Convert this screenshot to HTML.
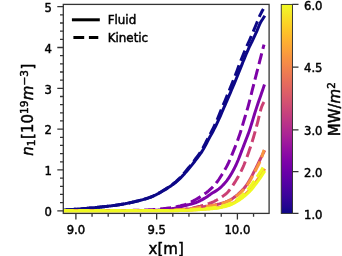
<!DOCTYPE html>
<html><head><meta charset="utf-8"><title>plot</title>
<style>
html,body{margin:0;padding:0;background:#fff;}
body{width:342px;height:256px;overflow:hidden;}
svg{display:block;}
text{font-family:"DejaVu Sans","Liberation Sans",sans-serif;fill:#000;stroke:#000;stroke-width:0.45px;}
svg{filter:blur(0.5px);}
</style></head><body>
<svg width="342" height="256" viewBox="0 0 342 256">
<defs>
<clipPath id="ax"><rect x="63.3" y="4.4" width="205.8" height="209.0"/></clipPath>
<linearGradient id="cb" x1="0" y1="1" x2="0" y2="0">
<stop offset="0.0000" stop-color="#0d0887"/>
<stop offset="0.0312" stop-color="#220690"/>
<stop offset="0.0625" stop-color="#310597"/>
<stop offset="0.0938" stop-color="#3f049c"/>
<stop offset="0.1250" stop-color="#4c02a1"/>
<stop offset="0.1562" stop-color="#5901a5"/>
<stop offset="0.1875" stop-color="#6600a7"/>
<stop offset="0.2188" stop-color="#7201a8"/>
<stop offset="0.2500" stop-color="#7e03a8"/>
<stop offset="0.2812" stop-color="#8a09a5"/>
<stop offset="0.3125" stop-color="#9511a1"/>
<stop offset="0.3438" stop-color="#a01a9c"/>
<stop offset="0.3750" stop-color="#aa2395"/>
<stop offset="0.4062" stop-color="#b32c8e"/>
<stop offset="0.4375" stop-color="#bc3587"/>
<stop offset="0.4688" stop-color="#c43e7f"/>
<stop offset="0.5000" stop-color="#cc4778"/>
<stop offset="0.5312" stop-color="#d35171"/>
<stop offset="0.5625" stop-color="#da5a6a"/>
<stop offset="0.5938" stop-color="#e06363"/>
<stop offset="0.6250" stop-color="#e66c5c"/>
<stop offset="0.6562" stop-color="#eb7655"/>
<stop offset="0.6875" stop-color="#f0804e"/>
<stop offset="0.7188" stop-color="#f58b47"/>
<stop offset="0.7500" stop-color="#f89540"/>
<stop offset="0.7812" stop-color="#fba139"/>
<stop offset="0.8125" stop-color="#fdac33"/>
<stop offset="0.8438" stop-color="#feb82c"/>
<stop offset="0.8750" stop-color="#fdc527"/>
<stop offset="0.9062" stop-color="#fcd225"/>
<stop offset="0.9375" stop-color="#f8df25"/>
<stop offset="0.9688" stop-color="#f4ed27"/>
<stop offset="1.0000" stop-color="#f0f921"/>
</linearGradient></defs>
<rect width="342" height="256" fill="#fff"/>
<g clip-path="url(#ax)" fill="none" stroke-width="3.0">
<path d="M55.00 210.20 L55.81 210.19 L56.61 210.18 L57.42 210.16 L58.23 210.14 L59.03 210.12 L59.84 210.10 L60.65 210.08 L61.46 210.05 L62.26 210.02 L63.07 210.00 L63.88 209.97 L64.68 209.93 L65.49 209.90 L66.30 209.86 L67.10 209.81 L67.91 209.77 L68.72 209.72 L69.53 209.67 L70.33 209.62 L71.14 209.56 L71.95 209.51 L72.75 209.45 L73.56 209.39 L74.37 209.33 L75.17 209.27 L75.98 209.21 L76.79 209.14 L77.59 209.08 L78.40 209.02 L79.21 208.96 L80.02 208.90 L80.82 208.84 L81.63 208.78 L82.44 208.71 L83.24 208.65 L84.05 208.58 L84.86 208.52 L85.66 208.45 L86.47 208.38 L87.28 208.31 L88.08 208.24 L88.89 208.17 L89.70 208.10 L90.51 208.03 L91.31 207.95 L92.12 207.88 L92.93 207.80 L93.73 207.73 L94.54 207.65 L95.35 207.57 L96.15 207.49 L96.96 207.41 L97.77 207.33 L98.58 207.25 L99.38 207.16 L100.19 207.08 L101.00 207.00 L101.80 206.91 L102.61 206.82 L103.42 206.74 L104.22 206.65 L105.03 206.56 L105.84 206.47 L106.64 206.38 L107.45 206.28 L108.26 206.19 L109.07 206.09 L109.87 206.00 L110.68 205.90 L111.49 205.80 L112.29 205.69 L113.10 205.59 L113.91 205.48 L114.71 205.37 L115.52 205.26 L116.33 205.15 L117.14 205.03 L117.94 204.91 L118.75 204.79 L119.56 204.67 L120.36 204.54 L121.17 204.41 L121.98 204.28 L122.78 204.14 L123.59 204.00 L124.40 203.85 L125.20 203.71 L126.01 203.55 L126.82 203.40 L127.63 203.24 L128.43 203.07 L129.24 202.91 L130.05 202.74 L130.85 202.57 L131.66 202.39 L132.47 202.21 L133.27 202.03 L134.08 201.84 L134.89 201.66 L135.69 201.47 L136.50 201.27 L137.31 201.08 L138.12 200.88 L138.92 200.67 L139.73 200.47 L140.54 200.26 L141.34 200.05 L142.15 199.83 L142.96 199.61 L143.76 199.38 L144.57 199.14 L145.38 198.90 L146.19 198.65 L146.99 198.40 L147.80 198.13 L148.61 197.86 L149.41 197.58 L150.22 197.28 L151.03 196.98 L151.83 196.67 L152.64 196.34 L153.45 195.99 L154.25 195.63 L155.06 195.24 L155.87 194.85 L156.68 194.44 L157.48 194.01 L158.29 193.58 L159.10 193.13 L159.90 192.68 L160.71 192.22 L161.52 191.75 L162.32 191.28 L163.13 190.81 L163.94 190.33 L164.75 189.85 L165.55 189.36 L166.36 188.87 L167.17 188.36 L167.97 187.84 L168.78 187.32 L169.59 186.78 L170.39 186.23 L171.20 185.67 L172.01 185.10 L172.81 184.52 L173.62 183.93 L174.43 183.32 L175.24 182.70 L176.04 182.06 L176.85 181.38 L177.66 180.67 L178.46 179.94 L179.27 179.17 L180.08 178.39 L180.88 177.58 L181.69 176.75 L182.50 175.90 L183.31 175.03 L184.11 174.15 L184.92 173.25 L185.73 172.34 L186.53 171.42 L187.34 170.49 L188.15 169.55 L188.95 168.59 L189.76 167.62 L190.57 166.63 L191.37 165.63 L192.18 164.61 L192.99 163.57 L193.80 162.53 L194.60 161.48 L195.41 160.42 L196.22 159.36 L197.02 158.31 L197.83 157.25 L198.64 156.19 L199.44 155.10 L200.25 153.98 L201.06 152.82 L201.86 151.61 L202.67 150.33 L203.48 148.97 L204.29 147.53 L205.09 146.04 L205.90 144.50 L206.71 142.94 L207.51 141.38 L208.32 139.82 L209.13 138.30 L209.93 136.82 L210.74 135.35 L211.55 133.90 L212.36 132.43 L213.16 130.94 L213.97 129.41 L214.78 127.84 L215.58 126.22 L216.39 124.58 L217.20 122.89 L218.00 121.18 L218.81 119.43 L219.62 117.64 L220.42 115.79 L221.23 113.90 L222.04 112.00 L222.85 110.11 L223.65 108.23 L224.46 106.38 L225.27 104.54 L226.07 102.69 L226.88 100.84 L227.69 98.97 L228.49 97.09 L229.30 95.21 L230.11 93.32 L230.92 91.42 L231.72 89.52 L232.53 87.62 L233.34 85.72 L234.14 83.81 L234.95 81.90 L235.76 79.97 L236.56 78.02 L237.37 76.03 L238.18 74.01 L238.98 71.98 L239.79 69.94 L240.60 67.91 L241.41 65.87 L242.21 63.83 L243.02 61.80 L243.83 59.81 L244.63 57.86 L245.44 55.92 L246.25 54.01 L247.05 52.12 L247.86 50.28 L248.67 48.47 L249.47 46.73 L250.28 45.04 L251.09 43.39 L251.90 41.74 L252.70 40.09 L253.51 38.39 L254.32 36.66 L255.12 34.90 L255.93 33.12 L256.74 31.32 L257.54 29.43 L258.35 27.45 L259.16 25.50 L259.97 23.66 L260.77 22.05 L261.58 20.73 L262.39 19.52 L263.19 18.26 L264.00 17.00" stroke="#0d0887" stroke-linecap="square"/>
<path d="M55.00 210.20 L55.80 210.19 L56.61 210.18 L57.41 210.16 L58.22 210.14 L59.02 210.12 L59.83 210.10 L60.63 210.08 L61.44 210.05 L62.24 210.03 L63.05 210.00 L63.85 209.97 L64.66 209.94 L65.46 209.90 L66.26 209.86 L67.07 209.82 L67.87 209.77 L68.68 209.72 L69.48 209.67 L70.29 209.62 L71.09 209.56 L71.90 209.51 L72.70 209.45 L73.51 209.39 L74.31 209.33 L75.12 209.27 L75.92 209.21 L76.73 209.15 L77.53 209.09 L78.33 209.03 L79.14 208.96 L79.94 208.90 L80.75 208.84 L81.55 208.78 L82.36 208.72 L83.16 208.66 L83.97 208.59 L84.77 208.52 L85.58 208.46 L86.38 208.39 L87.19 208.32 L87.99 208.25 L88.79 208.18 L89.60 208.11 L90.40 208.04 L91.21 207.96 L92.01 207.89 L92.82 207.81 L93.62 207.74 L94.43 207.66 L95.23 207.58 L96.04 207.50 L96.84 207.42 L97.65 207.34 L98.45 207.26 L99.25 207.18 L100.06 207.09 L100.86 207.01 L101.67 206.92 L102.47 206.84 L103.28 206.75 L104.08 206.66 L104.89 206.57 L105.69 206.48 L106.50 206.39 L107.30 206.30 L108.11 206.21 L108.91 206.11 L109.72 206.01 L110.52 205.92 L111.32 205.82 L112.13 205.71 L112.93 205.61 L113.74 205.50 L114.54 205.40 L115.35 205.29 L116.15 205.17 L116.96 205.06 L117.76 204.94 L118.57 204.82 L119.37 204.70 L120.18 204.57 L120.98 204.44 L121.78 204.31 L122.59 204.17 L123.39 204.03 L124.20 203.89 L125.00 203.74 L125.81 203.59 L126.61 203.44 L127.42 203.28 L128.22 203.12 L129.03 202.96 L129.83 202.79 L130.64 202.62 L131.44 202.44 L132.24 202.26 L133.05 202.08 L133.85 201.90 L134.66 201.71 L135.46 201.52 L136.27 201.33 L137.07 201.14 L137.88 200.94 L138.68 200.74 L139.49 200.53 L140.29 200.32 L141.10 200.11 L141.90 199.90 L142.71 199.67 L143.51 199.45 L144.31 199.21 L145.12 198.97 L145.92 198.72 L146.73 198.46 L147.53 198.20 L148.34 197.93 L149.14 197.64 L149.95 197.35 L150.75 197.05 L151.56 196.74 L152.36 196.41 L153.17 196.06 L153.97 195.69 L154.77 195.31 L155.58 194.91 L156.38 194.49 L157.19 194.06 L157.99 193.62 L158.80 193.17 L159.60 192.71 L160.41 192.24 L161.21 191.77 L162.02 191.29 L162.82 190.81 L163.63 190.33 L164.43 189.84 L165.23 189.34 L166.04 188.83 L166.84 188.32 L167.65 187.79 L168.45 187.25 L169.26 186.70 L170.06 186.14 L170.87 185.57 L171.67 184.99 L172.48 184.39 L173.28 183.78 L174.09 183.15 L174.89 182.51 L175.69 181.85 L176.50 181.14 L177.30 180.40 L178.11 179.63 L178.91 178.84 L179.72 178.02 L180.52 177.17 L181.33 176.30 L182.13 175.40 L182.94 174.49 L183.74 173.57 L184.55 172.63 L185.35 171.68 L186.16 170.72 L186.96 169.77 L187.76 168.80 L188.57 167.82 L189.37 166.83 L190.18 165.82 L190.98 164.80 L191.79 163.77 L192.59 162.73 L193.40 161.68 L194.20 160.62 L195.01 159.55 L195.81 158.49 L196.62 157.44 L197.42 156.37 L198.22 155.28 L199.03 154.16 L199.83 153.00 L200.64 151.79 L201.44 150.51 L202.25 149.15 L203.05 147.72 L203.86 146.22 L204.66 144.68 L205.47 143.12 L206.27 141.54 L207.08 139.96 L207.88 138.41 L208.68 136.89 L209.49 135.39 L210.29 133.88 L211.10 132.36 L211.90 130.81 L212.71 129.22 L213.51 127.58 L214.32 125.89 L215.12 124.17 L215.93 122.41 L216.73 120.61 L217.54 118.77 L218.34 116.86 L219.15 114.90 L219.95 112.91 L220.75 110.92 L221.56 108.96 L222.36 107.02 L223.17 105.10 L223.97 103.19 L224.78 101.27 L225.58 99.34 L226.39 97.40 L227.19 95.44 L228.00 93.48 L228.80 91.51 L229.61 89.54 L230.41 87.57 L231.21 85.60 L232.02 83.63 L232.82 81.64 L233.63 79.63 L234.43 77.58 L235.24 75.48 L236.04 73.35 L236.85 71.19 L237.65 69.03 L238.46 66.88 L239.26 64.72 L240.07 62.56 L240.87 60.46 L241.67 58.44 L242.48 56.46 L243.28 54.53 L244.09 52.63 L244.89 50.74 L245.70 48.87 L246.50 47.01 L247.31 45.18 L248.11 43.37 L248.92 41.57 L249.72 39.75 L250.53 37.91 L251.33 36.04 L252.14 34.15 L252.94 32.25 L253.74 30.34 L254.55 28.41 L255.35 26.47 L256.16 24.53 L256.96 22.57 L257.77 20.59 L258.57 18.57 L259.38 16.67 L260.18 14.94 L260.99 13.29 L261.79 11.72 L262.60 10.25 L263.40 8.90" stroke="#0d0887" stroke-dasharray="11.1 4.8" stroke-dashoffset="5.34"/>
<path d="M55.00 210.50 L55.81 210.50 L56.61 210.50 L57.42 210.50 L58.23 210.50 L59.03 210.50 L59.84 210.50 L60.65 210.50 L61.46 210.50 L62.26 210.50 L63.07 210.50 L63.88 210.50 L64.68 210.50 L65.49 210.50 L66.30 210.50 L67.10 210.50 L67.91 210.50 L68.72 210.50 L69.53 210.50 L70.33 210.50 L71.14 210.50 L71.95 210.50 L72.75 210.50 L73.56 210.50 L74.37 210.50 L75.17 210.50 L75.98 210.50 L76.79 210.50 L77.59 210.50 L78.40 210.50 L79.21 210.50 L80.02 210.50 L80.82 210.50 L81.63 210.49 L82.44 210.49 L83.24 210.49 L84.05 210.49 L84.86 210.49 L85.66 210.49 L86.47 210.49 L87.28 210.49 L88.08 210.49 L88.89 210.49 L89.70 210.49 L90.51 210.49 L91.31 210.49 L92.12 210.49 L92.93 210.49 L93.73 210.49 L94.54 210.49 L95.35 210.49 L96.15 210.49 L96.96 210.49 L97.77 210.49 L98.58 210.48 L99.38 210.48 L100.19 210.48 L101.00 210.48 L101.80 210.48 L102.61 210.48 L103.42 210.48 L104.22 210.48 L105.03 210.48 L105.84 210.48 L106.64 210.48 L107.45 210.48 L108.26 210.48 L109.07 210.47 L109.87 210.47 L110.68 210.47 L111.49 210.47 L112.29 210.47 L113.10 210.47 L113.91 210.47 L114.71 210.47 L115.52 210.47 L116.33 210.47 L117.14 210.46 L117.94 210.46 L118.75 210.46 L119.56 210.46 L120.36 210.46 L121.17 210.46 L121.98 210.46 L122.78 210.46 L123.59 210.46 L124.40 210.45 L125.20 210.45 L126.01 210.45 L126.82 210.45 L127.63 210.45 L128.43 210.45 L129.24 210.45 L130.05 210.44 L130.85 210.44 L131.66 210.44 L132.47 210.44 L133.27 210.44 L134.08 210.44 L134.89 210.43 L135.69 210.43 L136.50 210.43 L137.31 210.43 L138.12 210.43 L138.92 210.43 L139.73 210.42 L140.54 210.42 L141.34 210.42 L142.15 210.42 L142.96 210.42 L143.76 210.42 L144.57 210.41 L145.38 210.41 L146.19 210.41 L146.99 210.41 L147.80 210.41 L148.61 210.40 L149.41 210.40 L150.22 210.40 L151.03 210.39 L151.83 210.38 L152.64 210.36 L153.45 210.34 L154.25 210.31 L155.06 210.27 L155.87 210.23 L156.68 210.19 L157.48 210.14 L158.29 210.09 L159.10 210.03 L159.90 209.98 L160.71 209.91 L161.52 209.85 L162.32 209.78 L163.13 209.70 L163.94 209.63 L164.75 209.55 L165.55 209.47 L166.36 209.39 L167.17 209.30 L167.97 209.22 L168.78 209.13 L169.59 209.05 L170.39 208.95 L171.20 208.85 L172.01 208.73 L172.81 208.59 L173.62 208.44 L174.43 208.28 L175.24 208.10 L176.04 207.92 L176.85 207.73 L177.66 207.53 L178.46 207.32 L179.27 207.11 L180.08 206.90 L180.88 206.68 L181.69 206.47 L182.50 206.25 L183.31 206.04 L184.11 205.83 L184.92 205.62 L185.73 205.42 L186.53 205.22 L187.34 205.02 L188.15 204.82 L188.95 204.62 L189.76 204.41 L190.57 204.20 L191.37 203.98 L192.18 203.76 L192.99 203.53 L193.80 203.28 L194.60 203.03 L195.41 202.76 L196.22 202.48 L197.02 202.18 L197.83 201.85 L198.64 201.49 L199.44 201.10 L200.25 200.69 L201.06 200.26 L201.86 199.82 L202.67 199.36 L203.48 198.89 L204.29 198.42 L205.09 197.95 L205.90 197.45 L206.71 196.93 L207.51 196.39 L208.32 195.83 L209.13 195.27 L209.93 194.70 L210.74 194.14 L211.55 193.60 L212.36 193.07 L213.16 192.57 L213.97 192.09 L214.78 191.61 L215.58 191.12 L216.39 190.62 L217.20 190.09 L218.00 189.52 L218.81 188.90 L219.62 188.24 L220.42 187.53 L221.23 186.79 L222.04 186.01 L222.85 185.19 L223.65 184.35 L224.46 183.48 L225.27 182.59 L226.07 181.62 L226.88 180.58 L227.69 179.48 L228.49 178.32 L229.30 177.11 L230.11 175.85 L230.92 174.54 L231.72 173.18 L232.53 171.76 L233.34 170.30 L234.14 168.78 L234.95 167.18 L235.76 165.50 L236.56 163.75 L237.37 161.93 L238.18 160.05 L238.98 158.04 L239.79 155.89 L240.60 153.73 L241.41 151.63 L242.21 149.54 L243.02 147.45 L243.83 145.37 L244.63 143.27 L245.44 141.16 L246.25 139.06 L247.05 136.98 L247.86 134.88 L248.67 132.72 L249.47 130.46 L250.28 128.02 L251.09 125.41 L251.90 122.73 L252.70 120.08 L253.51 117.41 L254.32 114.74 L255.12 112.14 L255.93 109.62 L256.74 107.14 L257.54 104.71 L258.35 102.32 L259.16 99.99 L259.97 97.73 L260.77 95.43 L261.58 93.11 L262.39 90.76 L263.19 88.39 L264.00 86.00" stroke="#7e03a8" stroke-linecap="square"/>
<path d="M55.00 210.50 L55.81 210.50 L56.61 210.50 L57.42 210.50 L58.23 210.50 L59.03 210.50 L59.84 210.50 L60.65 210.50 L61.46 210.50 L62.26 210.50 L63.07 210.50 L63.88 210.50 L64.68 210.50 L65.49 210.50 L66.30 210.50 L67.10 210.50 L67.91 210.50 L68.72 210.50 L69.53 210.50 L70.33 210.50 L71.14 210.50 L71.95 210.50 L72.75 210.50 L73.56 210.50 L74.37 210.49 L75.17 210.49 L75.98 210.49 L76.79 210.49 L77.59 210.49 L78.40 210.49 L79.21 210.49 L80.02 210.49 L80.82 210.49 L81.63 210.49 L82.44 210.49 L83.24 210.49 L84.05 210.49 L84.86 210.49 L85.66 210.49 L86.47 210.49 L87.28 210.48 L88.08 210.48 L88.89 210.48 L89.70 210.48 L90.51 210.48 L91.31 210.48 L92.12 210.48 L92.93 210.48 L93.73 210.48 L94.54 210.48 L95.35 210.48 L96.15 210.47 L96.96 210.47 L97.77 210.47 L98.58 210.47 L99.38 210.47 L100.19 210.47 L101.00 210.47 L101.80 210.47 L102.61 210.46 L103.42 210.46 L104.22 210.46 L105.03 210.46 L105.84 210.46 L106.64 210.46 L107.45 210.46 L108.26 210.45 L109.07 210.45 L109.87 210.45 L110.68 210.45 L111.49 210.45 L112.29 210.45 L113.10 210.44 L113.91 210.44 L114.71 210.44 L115.52 210.44 L116.33 210.44 L117.14 210.44 L117.94 210.43 L118.75 210.43 L119.56 210.43 L120.36 210.43 L121.17 210.43 L121.98 210.42 L122.78 210.42 L123.59 210.42 L124.40 210.42 L125.20 210.41 L126.01 210.41 L126.82 210.41 L127.63 210.41 L128.43 210.40 L129.24 210.40 L130.05 210.40 L130.85 210.40 L131.66 210.39 L132.47 210.38 L133.27 210.37 L134.08 210.36 L134.89 210.34 L135.69 210.33 L136.50 210.31 L137.31 210.29 L138.12 210.27 L138.92 210.24 L139.73 210.22 L140.54 210.19 L141.34 210.16 L142.15 210.13 L142.96 210.10 L143.76 210.07 L144.57 210.04 L145.38 210.01 L146.19 209.97 L146.99 209.94 L147.80 209.90 L148.61 209.86 L149.41 209.83 L150.22 209.79 L151.03 209.75 L151.83 209.70 L152.64 209.64 L153.45 209.58 L154.25 209.52 L155.06 209.45 L155.87 209.38 L156.68 209.30 L157.48 209.23 L158.29 209.15 L159.10 209.07 L159.90 208.98 L160.71 208.90 L161.52 208.82 L162.32 208.74 L163.13 208.65 L163.94 208.57 L164.75 208.48 L165.55 208.39 L166.36 208.29 L167.17 208.20 L167.97 208.10 L168.78 207.99 L169.59 207.89 L170.39 207.78 L171.20 207.66 L172.01 207.54 L172.81 207.41 L173.62 207.28 L174.43 207.14 L175.24 206.99 L176.04 206.84 L176.85 206.68 L177.66 206.51 L178.46 206.33 L179.27 206.14 L180.08 205.95 L180.88 205.74 L181.69 205.53 L182.50 205.31 L183.31 205.08 L184.11 204.84 L184.92 204.59 L185.73 204.33 L186.53 204.04 L187.34 203.73 L188.15 203.39 L188.95 203.04 L189.76 202.66 L190.57 202.27 L191.37 201.87 L192.18 201.45 L192.99 201.03 L193.80 200.59 L194.60 200.15 L195.41 199.71 L196.22 199.26 L197.02 198.80 L197.83 198.33 L198.64 197.85 L199.44 197.37 L200.25 196.87 L201.06 196.35 L201.86 195.83 L202.67 195.29 L203.48 194.74 L204.29 194.17 L205.09 193.58 L205.90 192.98 L206.71 192.37 L207.51 191.73 L208.32 191.08 L209.13 190.40 L209.93 189.71 L210.74 188.98 L211.55 188.21 L212.36 187.40 L213.16 186.55 L213.97 185.66 L214.78 184.75 L215.58 183.79 L216.39 182.80 L217.20 181.78 L218.00 180.72 L218.81 179.53 L219.62 178.26 L220.42 176.99 L221.23 175.72 L222.04 174.44 L222.85 173.14 L223.65 171.81 L224.46 170.45 L225.27 169.05 L226.07 167.60 L226.88 166.10 L227.69 164.53 L228.49 162.86 L229.30 161.10 L230.11 159.26 L230.92 157.35 L231.72 155.40 L232.53 153.41 L233.34 151.41 L234.14 149.40 L234.95 147.37 L235.76 145.32 L236.56 143.23 L237.37 141.08 L238.18 138.87 L238.98 136.59 L239.79 134.23 L240.60 131.72 L241.41 129.09 L242.21 126.37 L243.02 123.63 L243.83 120.91 L244.63 118.23 L245.44 115.56 L246.25 112.86 L247.05 110.12 L247.86 107.31 L248.67 104.38 L249.47 101.29 L250.28 98.08 L251.09 94.83 L251.90 91.62 L252.70 88.46 L253.51 85.30 L254.32 82.14 L255.12 78.99 L255.93 75.85 L256.74 72.71 L257.54 69.57 L258.35 66.44 L259.16 63.31 L259.97 60.18 L260.77 57.06 L261.58 53.94 L262.39 50.82 L263.19 47.71 L264.00 44.60" stroke="#7e03a8" stroke-dasharray="11.1 4.8" stroke-dashoffset="6.16"/>
<path d="M55.00 210.60 L55.81 210.60 L56.61 210.60 L57.42 210.60 L58.23 210.60 L59.03 210.60 L59.84 210.60 L60.65 210.60 L61.46 210.60 L62.26 210.60 L63.07 210.60 L63.88 210.60 L64.68 210.60 L65.49 210.60 L66.30 210.60 L67.10 210.60 L67.91 210.60 L68.72 210.60 L69.53 210.60 L70.33 210.60 L71.14 210.60 L71.95 210.60 L72.75 210.60 L73.56 210.60 L74.37 210.60 L75.17 210.60 L75.98 210.60 L76.79 210.60 L77.59 210.60 L78.40 210.60 L79.21 210.60 L80.02 210.60 L80.82 210.60 L81.63 210.60 L82.44 210.60 L83.24 210.60 L84.05 210.60 L84.86 210.60 L85.66 210.60 L86.47 210.59 L87.28 210.59 L88.08 210.59 L88.89 210.59 L89.70 210.59 L90.51 210.59 L91.31 210.59 L92.12 210.59 L92.93 210.59 L93.73 210.59 L94.54 210.59 L95.35 210.59 L96.15 210.59 L96.96 210.59 L97.77 210.59 L98.58 210.59 L99.38 210.59 L100.19 210.59 L101.00 210.59 L101.80 210.59 L102.61 210.59 L103.42 210.59 L104.22 210.59 L105.03 210.59 L105.84 210.58 L106.64 210.58 L107.45 210.58 L108.26 210.58 L109.07 210.58 L109.87 210.58 L110.68 210.58 L111.49 210.58 L112.29 210.58 L113.10 210.58 L113.91 210.58 L114.71 210.58 L115.52 210.58 L116.33 210.58 L117.14 210.58 L117.94 210.57 L118.75 210.57 L119.56 210.57 L120.36 210.57 L121.17 210.57 L121.98 210.57 L122.78 210.57 L123.59 210.57 L124.40 210.57 L125.20 210.57 L126.01 210.57 L126.82 210.57 L127.63 210.56 L128.43 210.56 L129.24 210.56 L130.05 210.56 L130.85 210.56 L131.66 210.56 L132.47 210.56 L133.27 210.56 L134.08 210.56 L134.89 210.55 L135.69 210.55 L136.50 210.55 L137.31 210.55 L138.12 210.55 L138.92 210.55 L139.73 210.55 L140.54 210.55 L141.34 210.55 L142.15 210.54 L142.96 210.54 L143.76 210.54 L144.57 210.54 L145.38 210.54 L146.19 210.54 L146.99 210.54 L147.80 210.53 L148.61 210.53 L149.41 210.53 L150.22 210.53 L151.03 210.53 L151.83 210.53 L152.64 210.53 L153.45 210.52 L154.25 210.52 L155.06 210.52 L155.87 210.52 L156.68 210.52 L157.48 210.52 L158.29 210.51 L159.10 210.51 L159.90 210.51 L160.71 210.51 L161.52 210.51 L162.32 210.51 L163.13 210.50 L163.94 210.50 L164.75 210.50 L165.55 210.50 L166.36 210.49 L167.17 210.48 L167.97 210.46 L168.78 210.44 L169.59 210.42 L170.39 210.40 L171.20 210.37 L172.01 210.33 L172.81 210.30 L173.62 210.26 L174.43 210.22 L175.24 210.17 L176.04 210.12 L176.85 210.08 L177.66 210.02 L178.46 209.97 L179.27 209.92 L180.08 209.86 L180.88 209.81 L181.69 209.75 L182.50 209.69 L183.31 209.63 L184.11 209.57 L184.92 209.51 L185.73 209.44 L186.53 209.36 L187.34 209.28 L188.15 209.18 L188.95 209.08 L189.76 208.97 L190.57 208.86 L191.37 208.74 L192.18 208.62 L192.99 208.50 L193.80 208.38 L194.60 208.26 L195.41 208.14 L196.22 208.01 L197.02 207.88 L197.83 207.75 L198.64 207.61 L199.44 207.47 L200.25 207.33 L201.06 207.19 L201.86 207.04 L202.67 206.90 L203.48 206.76 L204.29 206.62 L205.09 206.48 L205.90 206.35 L206.71 206.23 L207.51 206.11 L208.32 205.99 L209.13 205.88 L209.93 205.76 L210.74 205.64 L211.55 205.52 L212.36 205.40 L213.16 205.27 L213.97 205.13 L214.78 204.99 L215.58 204.83 L216.39 204.67 L217.20 204.49 L218.00 204.30 L218.81 204.10 L219.62 203.88 L220.42 203.66 L221.23 203.42 L222.04 203.17 L222.85 202.91 L223.65 202.63 L224.46 202.34 L225.27 202.04 L226.07 201.72 L226.88 201.40 L227.69 201.06 L228.49 200.70 L229.30 200.32 L230.11 199.90 L230.92 199.45 L231.72 198.96 L232.53 198.44 L233.34 197.89 L234.14 197.32 L234.95 196.73 L235.76 196.13 L236.56 195.51 L237.37 194.86 L238.18 194.17 L238.98 193.43 L239.79 192.66 L240.60 191.86 L241.41 191.04 L242.21 190.20 L243.02 189.34 L243.83 188.45 L244.63 187.51 L245.44 186.51 L246.25 185.42 L247.05 184.24 L247.86 182.99 L248.67 181.68 L249.47 180.33 L250.28 178.89 L251.09 177.38 L251.90 175.85 L252.70 174.33 L253.51 172.82 L254.32 171.30 L255.12 169.74 L255.93 168.14 L256.74 166.48 L257.54 164.80 L258.35 163.10 L259.16 161.42 L259.97 159.76 L260.77 158.11 L261.58 156.47 L262.39 154.84 L263.19 153.22 L264.00 151.60" stroke="#cb4074" stroke-linecap="square"/>
<path d="M55.00 210.60 L55.81 210.60 L56.61 210.60 L57.42 210.60 L58.23 210.60 L59.03 210.60 L59.84 210.60 L60.65 210.60 L61.46 210.60 L62.26 210.60 L63.07 210.60 L63.88 210.60 L64.68 210.60 L65.49 210.60 L66.30 210.60 L67.10 210.60 L67.91 210.60 L68.72 210.60 L69.53 210.60 L70.33 210.60 L71.14 210.60 L71.95 210.60 L72.75 210.60 L73.56 210.60 L74.37 210.60 L75.17 210.60 L75.98 210.60 L76.79 210.60 L77.59 210.60 L78.40 210.60 L79.21 210.59 L80.02 210.59 L80.82 210.59 L81.63 210.59 L82.44 210.59 L83.24 210.59 L84.05 210.59 L84.86 210.59 L85.66 210.59 L86.47 210.59 L87.28 210.59 L88.08 210.59 L88.89 210.59 L89.70 210.59 L90.51 210.59 L91.31 210.59 L92.12 210.59 L92.93 210.59 L93.73 210.59 L94.54 210.58 L95.35 210.58 L96.15 210.58 L96.96 210.58 L97.77 210.58 L98.58 210.58 L99.38 210.58 L100.19 210.58 L101.00 210.58 L101.80 210.58 L102.61 210.58 L103.42 210.58 L104.22 210.57 L105.03 210.57 L105.84 210.57 L106.64 210.57 L107.45 210.57 L108.26 210.57 L109.07 210.57 L109.87 210.57 L110.68 210.57 L111.49 210.57 L112.29 210.56 L113.10 210.56 L113.91 210.56 L114.71 210.56 L115.52 210.56 L116.33 210.56 L117.14 210.56 L117.94 210.55 L118.75 210.55 L119.56 210.55 L120.36 210.55 L121.17 210.55 L121.98 210.55 L122.78 210.55 L123.59 210.54 L124.40 210.54 L125.20 210.54 L126.01 210.54 L126.82 210.54 L127.63 210.54 L128.43 210.53 L129.24 210.53 L130.05 210.53 L130.85 210.53 L131.66 210.53 L132.47 210.53 L133.27 210.52 L134.08 210.52 L134.89 210.52 L135.69 210.52 L136.50 210.52 L137.31 210.51 L138.12 210.51 L138.92 210.51 L139.73 210.51 L140.54 210.50 L141.34 210.50 L142.15 210.50 L142.96 210.50 L143.76 210.50 L144.57 210.49 L145.38 210.49 L146.19 210.49 L146.99 210.49 L147.80 210.48 L148.61 210.48 L149.41 210.48 L150.22 210.48 L151.03 210.47 L151.83 210.47 L152.64 210.47 L153.45 210.46 L154.25 210.46 L155.06 210.46 L155.87 210.46 L156.68 210.45 L157.48 210.45 L158.29 210.45 L159.10 210.44 L159.90 210.44 L160.71 210.44 L161.52 210.44 L162.32 210.43 L163.13 210.43 L163.94 210.43 L164.75 210.42 L165.55 210.42 L166.36 210.42 L167.17 210.41 L167.97 210.41 L168.78 210.41 L169.59 210.40 L170.39 210.40 L171.20 210.38 L172.01 210.36 L172.81 210.33 L173.62 210.29 L174.43 210.25 L175.24 210.19 L176.04 210.13 L176.85 210.07 L177.66 209.99 L178.46 209.91 L179.27 209.83 L180.08 209.74 L180.88 209.65 L181.69 209.55 L182.50 209.45 L183.31 209.34 L184.11 209.23 L184.92 209.12 L185.73 209.01 L186.53 208.90 L187.34 208.78 L188.15 208.67 L188.95 208.55 L189.76 208.43 L190.57 208.31 L191.37 208.18 L192.18 208.04 L192.99 207.88 L193.80 207.71 L194.60 207.53 L195.41 207.35 L196.22 207.16 L197.02 206.96 L197.83 206.76 L198.64 206.55 L199.44 206.34 L200.25 206.14 L201.06 205.92 L201.86 205.71 L202.67 205.49 L203.48 205.27 L204.29 205.04 L205.09 204.80 L205.90 204.56 L206.71 204.31 L207.51 204.05 L208.32 203.78 L209.13 203.50 L209.93 203.20 L210.74 202.90 L211.55 202.58 L212.36 202.25 L213.16 201.90 L213.97 201.52 L214.78 201.11 L215.58 200.69 L216.39 200.24 L217.20 199.78 L218.00 199.30 L218.81 198.81 L219.62 198.30 L220.42 197.78 L221.23 197.25 L222.04 196.72 L222.85 196.17 L223.65 195.62 L224.46 195.05 L225.27 194.44 L226.07 193.77 L226.88 193.03 L227.69 192.19 L228.49 191.28 L229.30 190.30 L230.11 189.26 L230.92 188.15 L231.72 187.00 L232.53 185.82 L233.34 184.60 L234.14 183.35 L234.95 182.09 L235.76 180.82 L236.56 179.50 L237.37 178.14 L238.18 176.73 L238.98 175.27 L239.79 173.76 L240.60 172.19 L241.41 170.56 L242.21 168.87 L243.02 167.11 L243.83 165.23 L244.63 163.23 L245.44 161.12 L246.25 158.94 L247.05 156.70 L247.86 154.43 L248.67 152.14 L249.47 149.81 L250.28 147.43 L251.09 144.99 L251.90 142.48 L252.70 139.89 L253.51 137.23 L254.32 134.45 L255.12 131.54 L255.93 128.56 L256.74 125.53 L257.54 122.51 L258.35 119.34 L259.16 115.95 L259.97 112.61 L260.77 109.56 L261.58 107.06 L262.39 105.05 L263.19 103.35 L264.00 102.00" stroke="#cb4074" stroke-dasharray="11.1 4.8" stroke-dashoffset="5.50"/>
<path d="M55.00 210.76 L55.81 210.76 L56.61 210.76 L57.42 210.76 L58.23 210.76 L59.03 210.76 L59.84 210.76 L60.65 210.76 L61.46 210.76 L62.26 210.76 L63.07 210.76 L63.88 210.76 L64.68 210.76 L65.49 210.76 L66.30 210.76 L67.10 210.76 L67.91 210.76 L68.72 210.76 L69.53 210.76 L70.33 210.76 L71.14 210.76 L71.95 210.76 L72.75 210.76 L73.56 210.76 L74.37 210.76 L75.17 210.76 L75.98 210.76 L76.79 210.76 L77.59 210.76 L78.40 210.76 L79.21 210.76 L80.02 210.76 L80.82 210.76 L81.63 210.76 L82.44 210.76 L83.24 210.76 L84.05 210.76 L84.86 210.76 L85.66 210.76 L86.47 210.76 L87.28 210.75 L88.08 210.75 L88.89 210.75 L89.70 210.75 L90.51 210.75 L91.31 210.75 L92.12 210.75 L92.93 210.75 L93.73 210.75 L94.54 210.75 L95.35 210.75 L96.15 210.75 L96.96 210.75 L97.77 210.75 L98.58 210.75 L99.38 210.75 L100.19 210.75 L101.00 210.75 L101.80 210.75 L102.61 210.75 L103.42 210.75 L104.22 210.75 L105.03 210.75 L105.84 210.75 L106.64 210.75 L107.45 210.74 L108.26 210.74 L109.07 210.74 L109.87 210.74 L110.68 210.74 L111.49 210.74 L112.29 210.74 L113.10 210.74 L113.91 210.74 L114.71 210.74 L115.52 210.74 L116.33 210.74 L117.14 210.74 L117.94 210.74 L118.75 210.74 L119.56 210.74 L120.36 210.73 L121.17 210.73 L121.98 210.73 L122.78 210.73 L123.59 210.73 L124.40 210.73 L125.20 210.73 L126.01 210.73 L126.82 210.73 L127.63 210.73 L128.43 210.73 L129.24 210.73 L130.05 210.72 L130.85 210.72 L131.66 210.72 L132.47 210.72 L133.27 210.72 L134.08 210.72 L134.89 210.72 L135.69 210.72 L136.50 210.72 L137.31 210.72 L138.12 210.71 L138.92 210.71 L139.73 210.71 L140.54 210.71 L141.34 210.71 L142.15 210.71 L142.96 210.71 L143.76 210.71 L144.57 210.71 L145.38 210.70 L146.19 210.70 L146.99 210.70 L147.80 210.70 L148.61 210.70 L149.41 210.70 L150.22 210.70 L151.03 210.70 L151.83 210.69 L152.64 210.69 L153.45 210.69 L154.25 210.69 L155.06 210.69 L155.87 210.69 L156.68 210.69 L157.48 210.68 L158.29 210.68 L159.10 210.68 L159.90 210.68 L160.71 210.68 L161.52 210.68 L162.32 210.68 L163.13 210.67 L163.94 210.67 L164.75 210.67 L165.55 210.67 L166.36 210.67 L167.17 210.67 L167.97 210.66 L168.78 210.66 L169.59 210.66 L170.39 210.66 L171.20 210.65 L172.01 210.65 L172.81 210.64 L173.62 210.63 L174.43 210.61 L175.24 210.60 L176.04 210.58 L176.85 210.56 L177.66 210.53 L178.46 210.51 L179.27 210.49 L180.08 210.46 L180.88 210.43 L181.69 210.40 L182.50 210.37 L183.31 210.34 L184.11 210.31 L184.92 210.28 L185.73 210.24 L186.53 210.21 L187.34 210.17 L188.15 210.14 L188.95 210.10 L189.76 210.07 L190.57 210.03 L191.37 210.00 L192.18 209.95 L192.99 209.91 L193.80 209.86 L194.60 209.81 L195.41 209.76 L196.22 209.70 L197.02 209.64 L197.83 209.58 L198.64 209.52 L199.44 209.46 L200.25 209.39 L201.06 209.33 L201.86 209.26 L202.67 209.20 L203.48 209.13 L204.29 209.06 L205.09 209.00 L205.90 208.93 L206.71 208.87 L207.51 208.80 L208.32 208.73 L209.13 208.66 L209.93 208.59 L210.74 208.52 L211.55 208.45 L212.36 208.37 L213.16 208.28 L213.97 208.20 L214.78 208.10 L215.58 208.00 L216.39 207.90 L217.20 207.78 L218.00 207.66 L218.81 207.52 L219.62 207.37 L220.42 207.21 L221.23 207.04 L222.04 206.85 L222.85 206.66 L223.65 206.46 L224.46 206.24 L225.27 206.02 L226.07 205.78 L226.88 205.54 L227.69 205.29 L228.49 205.03 L229.30 204.74 L230.11 204.43 L230.92 204.09 L231.72 203.71 L232.53 203.32 L233.34 202.90 L234.14 202.47 L234.95 202.01 L235.76 201.55 L236.56 201.07 L237.37 200.57 L238.18 200.04 L238.98 199.48 L239.79 198.89 L240.60 198.28 L241.41 197.64 L242.21 196.98 L243.02 196.31 L243.83 195.62 L244.63 194.91 L245.44 194.20 L246.25 193.45 L247.05 192.67 L247.86 191.86 L248.67 191.02 L249.47 190.15 L250.28 189.26 L251.09 188.33 L251.90 187.34 L252.70 186.30 L253.51 185.22 L254.32 184.12 L255.12 183.01 L255.93 181.91 L256.74 180.80 L257.54 179.68 L258.35 178.54 L259.16 177.39 L259.97 176.22 L260.77 175.03 L261.58 173.81 L262.39 172.57 L263.19 171.30 L264.00 170.01" stroke="#f89540" stroke-linecap="square"/>
<path d="M55.00 210.60 L55.81 210.60 L56.61 210.60 L57.42 210.60 L58.23 210.60 L59.03 210.60 L59.84 210.60 L60.65 210.60 L61.46 210.60 L62.26 210.60 L63.07 210.60 L63.88 210.60 L64.68 210.60 L65.49 210.60 L66.30 210.60 L67.10 210.60 L67.91 210.60 L68.72 210.60 L69.53 210.60 L70.33 210.60 L71.14 210.60 L71.95 210.60 L72.75 210.60 L73.56 210.60 L74.37 210.60 L75.17 210.60 L75.98 210.60 L76.79 210.60 L77.59 210.60 L78.40 210.60 L79.21 210.60 L80.02 210.60 L80.82 210.60 L81.63 210.60 L82.44 210.60 L83.24 210.60 L84.05 210.60 L84.86 210.60 L85.66 210.60 L86.47 210.59 L87.28 210.59 L88.08 210.59 L88.89 210.59 L89.70 210.59 L90.51 210.59 L91.31 210.59 L92.12 210.59 L92.93 210.59 L93.73 210.59 L94.54 210.59 L95.35 210.59 L96.15 210.59 L96.96 210.59 L97.77 210.59 L98.58 210.59 L99.38 210.59 L100.19 210.59 L101.00 210.59 L101.80 210.59 L102.61 210.59 L103.42 210.59 L104.22 210.59 L105.03 210.59 L105.84 210.58 L106.64 210.58 L107.45 210.58 L108.26 210.58 L109.07 210.58 L109.87 210.58 L110.68 210.58 L111.49 210.58 L112.29 210.58 L113.10 210.58 L113.91 210.58 L114.71 210.58 L115.52 210.58 L116.33 210.58 L117.14 210.58 L117.94 210.57 L118.75 210.57 L119.56 210.57 L120.36 210.57 L121.17 210.57 L121.98 210.57 L122.78 210.57 L123.59 210.57 L124.40 210.57 L125.20 210.57 L126.01 210.57 L126.82 210.57 L127.63 210.56 L128.43 210.56 L129.24 210.56 L130.05 210.56 L130.85 210.56 L131.66 210.56 L132.47 210.56 L133.27 210.56 L134.08 210.56 L134.89 210.55 L135.69 210.55 L136.50 210.55 L137.31 210.55 L138.12 210.55 L138.92 210.55 L139.73 210.55 L140.54 210.55 L141.34 210.55 L142.15 210.54 L142.96 210.54 L143.76 210.54 L144.57 210.54 L145.38 210.54 L146.19 210.54 L146.99 210.54 L147.80 210.53 L148.61 210.53 L149.41 210.53 L150.22 210.53 L151.03 210.53 L151.83 210.53 L152.64 210.53 L153.45 210.52 L154.25 210.52 L155.06 210.52 L155.87 210.52 L156.68 210.52 L157.48 210.52 L158.29 210.51 L159.10 210.51 L159.90 210.51 L160.71 210.51 L161.52 210.51 L162.32 210.51 L163.13 210.50 L163.94 210.50 L164.75 210.50 L165.55 210.50 L166.36 210.49 L167.17 210.48 L167.97 210.46 L168.78 210.44 L169.59 210.42 L170.39 210.40 L171.20 210.37 L172.01 210.33 L172.81 210.30 L173.62 210.26 L174.43 210.22 L175.24 210.17 L176.04 210.12 L176.85 210.08 L177.66 210.02 L178.46 209.97 L179.27 209.92 L180.08 209.86 L180.88 209.81 L181.69 209.75 L182.50 209.69 L183.31 209.63 L184.11 209.57 L184.92 209.51 L185.73 209.44 L186.53 209.36 L187.34 209.28 L188.15 209.18 L188.95 209.08 L189.76 208.97 L190.57 208.85 L191.37 208.73 L192.18 208.61 L192.99 208.49 L193.80 208.37 L194.60 208.26 L195.41 208.14 L196.22 208.02 L197.02 207.90 L197.83 207.78 L198.64 207.65 L199.44 207.53 L200.25 207.40 L201.06 207.27 L201.86 207.14 L202.67 207.01 L203.48 206.87 L204.29 206.74 L205.09 206.61 L205.90 206.48 L206.71 206.36 L207.51 206.24 L208.32 206.12 L209.13 206.00 L209.93 205.89 L210.74 205.77 L211.55 205.65 L212.36 205.53 L213.16 205.40 L213.97 205.27 L214.78 205.13 L215.58 204.99 L216.39 204.83 L217.20 204.67 L218.00 204.49 L218.81 204.30 L219.62 204.10 L220.42 203.88 L221.23 203.66 L222.04 203.42 L222.85 203.17 L223.65 202.90 L224.46 202.63 L225.27 202.34 L226.07 202.04 L226.88 201.72 L227.69 201.39 L228.49 201.05 L229.30 200.70 L230.11 200.32 L230.92 199.90 L231.72 199.44 L232.53 198.95 L233.34 198.43 L234.14 197.89 L234.95 197.32 L235.76 196.73 L236.56 196.12 L237.37 195.50 L238.18 194.85 L238.98 194.16 L239.79 193.43 L240.60 192.65 L241.41 191.85 L242.21 191.03 L243.02 190.19 L243.83 189.33 L244.63 188.44 L245.44 187.50 L246.25 186.50 L247.05 185.41 L247.86 184.23 L248.67 182.98 L249.47 181.67 L250.28 180.32 L251.09 178.88 L251.90 177.37 L252.70 175.84 L253.51 174.32 L254.32 172.81 L255.12 171.29 L255.93 169.73 L256.74 168.15 L257.54 166.59 L258.35 165.00 L259.16 163.34 L259.97 161.57 L260.77 159.62 L261.58 157.47 L262.39 155.13 L263.19 152.63 L264.00 150.00" stroke="#f89540" stroke-dasharray="11.1 4.8" stroke-dashoffset="7.71"/>
<path d="M55.00 210.90 L55.81 210.90 L56.61 210.90 L57.42 210.90 L58.23 210.90 L59.03 210.90 L59.84 210.90 L60.65 210.90 L61.46 210.90 L62.26 210.90 L63.07 210.90 L63.88 210.90 L64.68 210.90 L65.49 210.90 L66.30 210.90 L67.10 210.90 L67.91 210.90 L68.72 210.90 L69.53 210.90 L70.33 210.90 L71.14 210.90 L71.95 210.90 L72.75 210.90 L73.56 210.90 L74.37 210.90 L75.17 210.90 L75.98 210.90 L76.79 210.90 L77.59 210.90 L78.40 210.90 L79.21 210.90 L80.02 210.90 L80.82 210.90 L81.63 210.90 L82.44 210.90 L83.24 210.90 L84.05 210.90 L84.86 210.90 L85.66 210.90 L86.47 210.90 L87.28 210.89 L88.08 210.89 L88.89 210.89 L89.70 210.89 L90.51 210.89 L91.31 210.89 L92.12 210.89 L92.93 210.89 L93.73 210.89 L94.54 210.89 L95.35 210.89 L96.15 210.89 L96.96 210.89 L97.77 210.89 L98.58 210.89 L99.38 210.89 L100.19 210.89 L101.00 210.89 L101.80 210.89 L102.61 210.89 L103.42 210.89 L104.22 210.89 L105.03 210.89 L105.84 210.89 L106.64 210.89 L107.45 210.88 L108.26 210.88 L109.07 210.88 L109.87 210.88 L110.68 210.88 L111.49 210.88 L112.29 210.88 L113.10 210.88 L113.91 210.88 L114.71 210.88 L115.52 210.88 L116.33 210.88 L117.14 210.88 L117.94 210.88 L118.75 210.88 L119.56 210.88 L120.36 210.87 L121.17 210.87 L121.98 210.87 L122.78 210.87 L123.59 210.87 L124.40 210.87 L125.20 210.87 L126.01 210.87 L126.82 210.87 L127.63 210.87 L128.43 210.87 L129.24 210.87 L130.05 210.86 L130.85 210.86 L131.66 210.86 L132.47 210.86 L133.27 210.86 L134.08 210.86 L134.89 210.86 L135.69 210.86 L136.50 210.86 L137.31 210.86 L138.12 210.85 L138.92 210.85 L139.73 210.85 L140.54 210.85 L141.34 210.85 L142.15 210.85 L142.96 210.85 L143.76 210.85 L144.57 210.85 L145.38 210.84 L146.19 210.84 L146.99 210.84 L147.80 210.84 L148.61 210.84 L149.41 210.84 L150.22 210.84 L151.03 210.84 L151.83 210.83 L152.64 210.83 L153.45 210.83 L154.25 210.83 L155.06 210.83 L155.87 210.83 L156.68 210.83 L157.48 210.82 L158.29 210.82 L159.10 210.82 L159.90 210.82 L160.71 210.82 L161.52 210.82 L162.32 210.82 L163.13 210.81 L163.94 210.81 L164.75 210.81 L165.55 210.81 L166.36 210.81 L167.17 210.81 L167.97 210.80 L168.78 210.80 L169.59 210.80 L170.39 210.80 L171.20 210.79 L172.01 210.79 L172.81 210.78 L173.62 210.77 L174.43 210.75 L175.24 210.73 L176.04 210.72 L176.85 210.69 L177.66 210.67 L178.46 210.65 L179.27 210.62 L180.08 210.60 L180.88 210.57 L181.69 210.54 L182.50 210.51 L183.31 210.48 L184.11 210.44 L184.92 210.41 L185.73 210.38 L186.53 210.34 L187.34 210.31 L188.15 210.28 L188.95 210.24 L189.76 210.21 L190.57 210.18 L191.37 210.14 L192.18 210.10 L192.99 210.06 L193.80 210.01 L194.60 209.97 L195.41 209.92 L196.22 209.87 L197.02 209.82 L197.83 209.76 L198.64 209.71 L199.44 209.65 L200.25 209.60 L201.06 209.54 L201.86 209.48 L202.67 209.42 L203.48 209.36 L204.29 209.30 L205.09 209.24 L205.90 209.18 L206.71 209.12 L207.51 209.07 L208.32 209.01 L209.13 208.94 L209.93 208.88 L210.74 208.82 L211.55 208.75 L212.36 208.68 L213.16 208.60 L213.97 208.52 L214.78 208.44 L215.58 208.35 L216.39 208.25 L217.20 208.15 L218.00 208.03 L218.81 207.90 L219.62 207.76 L220.42 207.61 L221.23 207.45 L222.04 207.28 L222.85 207.10 L223.65 206.91 L224.46 206.70 L225.27 206.49 L226.07 206.27 L226.88 206.04 L227.69 205.80 L228.49 205.55 L229.30 205.28 L230.11 204.98 L230.92 204.64 L231.72 204.28 L232.53 203.90 L233.34 203.49 L234.14 203.07 L234.95 202.63 L235.76 202.18 L236.56 201.73 L237.37 201.26 L238.18 200.76 L238.98 200.24 L239.79 199.69 L240.60 199.12 L241.41 198.53 L242.21 197.93 L243.02 197.30 L243.83 196.67 L244.63 196.02 L245.44 195.35 L246.25 194.67 L247.05 193.96 L247.86 193.22 L248.67 192.45 L249.47 191.65 L250.28 190.81 L251.09 189.94 L251.90 189.01 L252.70 188.02 L253.51 186.99 L254.32 185.93 L255.12 184.86 L255.93 183.79 L256.74 182.72 L257.54 181.63 L258.35 180.53 L259.16 179.40 L259.97 178.26 L260.77 177.09 L261.58 175.89 L262.39 174.67 L263.19 173.42 L264.00 172.15" stroke="#f0f921" stroke-linecap="square"/>
<path d="M55.00 210.50 L55.81 210.50 L56.61 210.50 L57.42 210.50 L58.23 210.50 L59.03 210.50 L59.84 210.50 L60.65 210.50 L61.46 210.50 L62.26 210.50 L63.07 210.50 L63.88 210.50 L64.68 210.50 L65.49 210.50 L66.30 210.50 L67.10 210.50 L67.91 210.50 L68.72 210.50 L69.53 210.50 L70.33 210.50 L71.14 210.50 L71.95 210.50 L72.75 210.50 L73.56 210.50 L74.37 210.50 L75.17 210.50 L75.98 210.50 L76.79 210.50 L77.59 210.50 L78.40 210.50 L79.21 210.50 L80.02 210.50 L80.82 210.50 L81.63 210.50 L82.44 210.50 L83.24 210.50 L84.05 210.50 L84.86 210.50 L85.66 210.50 L86.47 210.50 L87.28 210.49 L88.08 210.49 L88.89 210.49 L89.70 210.49 L90.51 210.49 L91.31 210.49 L92.12 210.49 L92.93 210.49 L93.73 210.49 L94.54 210.49 L95.35 210.49 L96.15 210.49 L96.96 210.49 L97.77 210.49 L98.58 210.49 L99.38 210.49 L100.19 210.49 L101.00 210.49 L101.80 210.49 L102.61 210.49 L103.42 210.49 L104.22 210.49 L105.03 210.49 L105.84 210.49 L106.64 210.49 L107.45 210.48 L108.26 210.48 L109.07 210.48 L109.87 210.48 L110.68 210.48 L111.49 210.48 L112.29 210.48 L113.10 210.48 L113.91 210.48 L114.71 210.48 L115.52 210.48 L116.33 210.48 L117.14 210.48 L117.94 210.48 L118.75 210.48 L119.56 210.48 L120.36 210.47 L121.17 210.47 L121.98 210.47 L122.78 210.47 L123.59 210.47 L124.40 210.47 L125.20 210.47 L126.01 210.47 L126.82 210.47 L127.63 210.47 L128.43 210.47 L129.24 210.47 L130.05 210.46 L130.85 210.46 L131.66 210.46 L132.47 210.46 L133.27 210.46 L134.08 210.46 L134.89 210.46 L135.69 210.46 L136.50 210.46 L137.31 210.46 L138.12 210.45 L138.92 210.45 L139.73 210.45 L140.54 210.45 L141.34 210.45 L142.15 210.45 L142.96 210.45 L143.76 210.45 L144.57 210.45 L145.38 210.44 L146.19 210.44 L146.99 210.44 L147.80 210.44 L148.61 210.44 L149.41 210.44 L150.22 210.44 L151.03 210.44 L151.83 210.43 L152.64 210.43 L153.45 210.43 L154.25 210.43 L155.06 210.43 L155.87 210.43 L156.68 210.43 L157.48 210.42 L158.29 210.42 L159.10 210.42 L159.90 210.42 L160.71 210.42 L161.52 210.42 L162.32 210.42 L163.13 210.41 L163.94 210.41 L164.75 210.41 L165.55 210.41 L166.36 210.41 L167.17 210.41 L167.97 210.40 L168.78 210.40 L169.59 210.40 L170.39 210.40 L171.20 210.39 L172.01 210.39 L172.81 210.38 L173.62 210.37 L174.43 210.35 L175.24 210.34 L176.04 210.32 L176.85 210.30 L177.66 210.28 L178.46 210.26 L179.27 210.23 L180.08 210.20 L180.88 210.18 L181.69 210.15 L182.50 210.12 L183.31 210.09 L184.11 210.06 L184.92 210.02 L185.73 209.99 L186.53 209.95 L187.34 209.92 L188.15 209.88 L188.95 209.85 L189.76 209.81 L190.57 209.77 L191.37 209.73 L192.18 209.68 L192.99 209.63 L193.80 209.57 L194.60 209.52 L195.41 209.45 L196.22 209.39 L197.02 209.32 L197.83 209.24 L198.64 209.17 L199.44 209.09 L200.25 209.02 L201.06 208.94 L201.86 208.86 L202.67 208.78 L203.48 208.70 L204.29 208.62 L205.09 208.54 L205.90 208.46 L206.71 208.38 L207.51 208.31 L208.32 208.23 L209.13 208.14 L209.93 208.06 L210.74 207.97 L211.55 207.88 L212.36 207.79 L213.16 207.69 L213.97 207.59 L214.78 207.48 L215.58 207.36 L216.39 207.24 L217.20 207.11 L218.00 206.96 L218.81 206.80 L219.62 206.64 L220.42 206.46 L221.23 206.26 L222.04 206.06 L222.85 205.85 L223.65 205.62 L224.46 205.38 L225.27 205.14 L226.07 204.88 L226.88 204.61 L227.69 204.34 L228.49 204.05 L229.30 203.75 L230.11 203.41 L230.92 203.05 L231.72 202.66 L232.53 202.24 L233.34 201.80 L234.14 201.34 L234.95 200.86 L235.76 200.36 L236.56 199.84 L237.37 199.29 L238.18 198.71 L238.98 198.08 L239.79 197.41 L240.60 196.71 L241.41 195.99 L242.21 195.24 L243.02 194.46 L243.83 193.67 L244.63 192.87 L245.44 192.05 L246.25 191.18 L247.05 190.28 L247.86 189.34 L248.67 188.38 L249.47 187.38 L250.28 186.37 L251.09 185.33 L251.90 184.24 L252.70 183.11 L253.51 181.95 L254.32 180.77 L255.12 179.58 L255.93 178.40 L256.74 177.23 L257.54 176.04 L258.35 174.85 L259.16 173.65 L259.97 172.43 L260.77 171.20 L261.58 169.94 L262.39 168.66 L263.19 167.36 L264.00 166.05" stroke="#f0f921" stroke-dasharray="11.1 4.8" stroke-dashoffset="8.49"/>
</g>
<rect x="63.3" y="4.4" width="205.8" height="209.0" fill="none" stroke="#343434" stroke-width="1.3"/>
<path d="M75.90 213.4 v6.0 M156.65 213.4 v6.0 M237.40 213.4 v6.0 M92.05 213.4 v3.3 M108.20 213.4 v3.3 M124.35 213.4 v3.3 M140.50 213.4 v3.3 M172.80 213.4 v3.3 M188.95 213.4 v3.3 M205.10 213.4 v3.3 M221.25 213.4 v3.3 M253.55 213.4 v3.3 M63.3 210.80 h-6.0 M63.3 169.97 h-6.0 M63.3 129.14 h-6.0 M63.3 88.31 h-6.0 M63.3 47.48 h-6.0 M63.3 6.65 h-6.0 M63.3 202.63 h-3.3 M63.3 194.47 h-3.3 M63.3 186.30 h-3.3 M63.3 178.14 h-3.3 M63.3 161.80 h-3.3 M63.3 153.64 h-3.3 M63.3 145.47 h-3.3 M63.3 137.31 h-3.3 M63.3 120.97 h-3.3 M63.3 112.81 h-3.3 M63.3 104.64 h-3.3 M63.3 96.48 h-3.3 M63.3 80.14 h-3.3 M63.3 71.98 h-3.3 M63.3 63.81 h-3.3 M63.3 55.65 h-3.3 M63.3 39.31 h-3.3 M63.3 31.15 h-3.3 M63.3 22.98 h-3.3 M63.3 14.82 h-3.3" stroke="#343434" stroke-width="1.3" fill="none"/>
<text x="75.90" y="233.8" font-size="11.6" text-anchor="middle">9.0</text>
<text x="156.65" y="233.8" font-size="11.6" text-anchor="middle">9.5</text>
<text x="237.40" y="233.8" font-size="11.6" text-anchor="middle">10.0</text>
<text x="52.0" y="216.10" font-size="11.6" text-anchor="end">0</text>
<text x="52.0" y="175.27" font-size="11.6" text-anchor="end">1</text>
<text x="52.0" y="134.44" font-size="11.6" text-anchor="end">2</text>
<text x="52.0" y="93.61" font-size="11.6" text-anchor="end">3</text>
<text x="52.0" y="52.78" font-size="11.6" text-anchor="end">4</text>
<text x="52.0" y="11.95" font-size="11.6" text-anchor="end">5</text>
<text x="166.20" y="253.7" font-size="15.0" text-anchor="middle">x[m]</text>
<text transform="translate(32.8 109.70) rotate(-90)" font-size="15.0" text-anchor="middle"><tspan font-style="italic">n</tspan><tspan font-size="10.50" dy="2.55">1</tspan><tspan dy="-2.55" dx="0.5">[10</tspan><tspan font-size="10.50" dy="-5.10">19</tspan><tspan font-style="italic" dy="5.10" dx="0.5">m</tspan><tspan font-size="10.50" dy="-5.10">−3</tspan><tspan dy="5.10" dx="0.5">]</tspan></text>
<path d="M73.4 19.8 H98.3" stroke="#000" stroke-width="3.0" stroke-linecap="square"/>
<path d="M73.4 37.6 H98.3" stroke="#000" stroke-width="3.0" stroke-dasharray="10.8 4.7"/>
<text x="107.7" y="24.3" font-size="11.9">Fluid</text>
<text x="107.7" y="42" font-size="11.9">Kinetic</text>
<rect x="281.25" y="4.4" width="11.25" height="209.0" fill="url(#cb)" stroke="#2a2a2a" stroke-width="0.9"/>
<text x="304.0" y="218.70" font-size="11.6">1.0</text>
<text x="304.0" y="176.90" font-size="11.6">2.0</text>
<text x="304.0" y="135.10" font-size="11.6">3.0</text>
<text x="304.0" y="72.40" font-size="11.6">4.5</text>
<text x="304.0" y="9.70" font-size="11.6">6.0</text>
<path d="M292.5 213.40 h6.0 M292.5 171.60 h6.0 M292.5 129.80 h6.0 M292.5 67.10 h6.0 M292.5 4.40 h6.0" stroke="#343434" stroke-width="1.3" fill="none"/>
<text transform="translate(340.3 109.2) rotate(-90)" font-size="15.0" text-anchor="middle">MW/<tspan font-style="italic">m</tspan><tspan font-size="10.50" dy="-5.10">2</tspan></text>
</svg></body></html>
